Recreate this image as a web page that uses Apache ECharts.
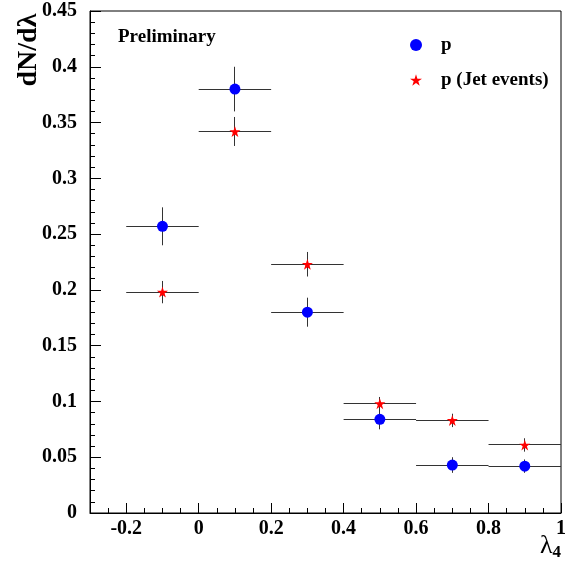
<!DOCTYPE html>
<html><head><meta charset="utf-8">
<script src="https://cdn.jsdelivr.net/npm/echarts@6/dist/echarts.min.js"></script>
<style>html,body{margin:0;padding:0;background:#fff}#c{width:570px;height:569px}</style>
</head><body><div id="c"></div>
<script>
// ---- data ----
const binCenters = [-0.1, 0.1, 0.3, 0.5, 0.7, 0.9];
const binHalfWidth = 0.1;
const pValues = [0.257, 0.380, 0.180, 0.084, 0.043, 0.042];
const pErrors = [0.017, 0.020, 0.013, 0.009, 0.007, 0.006];
const jetValues = [0.198, 0.342, 0.223, 0.098, 0.083, 0.061];
const jetErrors = [0.010, 0.013, 0.011, 0.006, 0.006, 0.006];
const xMajorTicks = [-0.2, 0, 0.2, 0.4, 0.6, 0.8, 1];
const seriesNames = ['p', 'p (Jet events)'];

const FONT = '"Liberation Serif", "Times New Roman", serif';
const starPath = 'path://M50,0 L61.8,36.2 L100,36.2 L69.1,58.8 L80.9,95.1 L50,72.6 L19.1,95.1 L30.9,58.8 L0,36.2 L38.2,36.2 Z';

const chart = echarts.init(document.getElementById('c'), null, {renderer: 'canvas'});

function crisp(v) { return Math.round(v - 0.5) + 0.5; }

function errorBars(vals, errs, name) {
  return {
    type: 'custom', name: name + ' err', silent: true, z: 2,
    xAxisIndex: 0, yAxisIndex: 0,
    data: binCenters.map((x, i) => [x, vals[i], errs[i]]),
    encode: {x: 0, y: 1},
    renderItem: function (params, api) {
      const x = api.value(0), y = api.value(1), e = api.value(2);
      const l = api.coord([x - binHalfWidth, y]);
      const r = api.coord([x + binHalfWidth, y]);
      const t = api.coord([x, y + e]);
      const b = api.coord([x, y - e]);
      const st = {stroke: '#333', lineWidth: 1};
      return {type: 'group', children: [
        {type: 'line', shape: {x1: l[0], y1: crisp(l[1]), x2: r[0], y2: crisp(r[1])}, style: st},
        {type: 'line', shape: {x1: crisp(t[0]), y1: t[1], x2: crisp(b[0]), y2: b[1]}, style: st}
      ]};
    }
  };
}

const labelStyle = {fontFamily: FONT, fontWeight: 'bold', fontSize: 20, color: '#000'};

const option = {
  animation: false,
  backgroundColor: '#fff',
  grid: {left: 90, right: 9, top: 11, bottom: 56, show: true, borderColor: '#000', borderWidth: 1, backgroundColor: 'transparent'},
  title: {text: 'Preliminary', left: 113, top: 23,
    textStyle: {fontFamily: FONT, fontWeight: 'bold', fontSize: 19, color: '#000'}},
  legend: {
    orient: 'vertical', left: 405, top: 30, itemWidth: 12, itemHeight: 12, itemGap: 15,
    data: [{name: seriesNames[0], icon: 'circle'}, {name: seriesNames[1], icon: starPath}],
    textStyle: {fontFamily: FONT, fontWeight: 'bold', fontSize: 19, color: '#000', lineHeight: 20, padding: [0, 0, 0, 14]}
  },
  xAxis: [
    {type: 'value', min: -0.3, max: 1, position: 'bottom',
      axisLine: {show: true, onZero: false, lineStyle: {color: '#000', width: 1}},
      axisTick: {show: true, inside: true, length: 10, lineStyle: {color: '#000'}, customValues: xMajorTicks},
      axisLabel: {show: true, margin: 6, customValues: xMajorTicks, ...labelStyle,
        formatter: v => String(Math.round(v * 10) / 10)},
      splitLine: {show: false}},
    {type: 'value', min: -0.3, max: 1, interval: 0.05, position: 'bottom', offset: 0,
      axisLine: {show: false, onZero: false},
      axisTick: {show: true, inside: true, length: 5, lineStyle: {color: '#000'}},
      axisLabel: {show: false}, splitLine: {show: false}}
  ],
  yAxis: {type: 'value', min: 0, max: 0.45, interval: 0.05, position: 'left',
    axisLine: {show: true, onZero: false, lineStyle: {color: '#000', width: 1}},
    axisTick: {show: true, inside: true, length: 11, lineStyle: {color: '#000'}},
    minorTick: {show: true, splitNumber: 5, length: 5, lineStyle: {color: '#000'}},
    axisLabel: {margin: 13, ...labelStyle, formatter: v => String(Math.round(v * 100) / 100)},
    splitLine: {show: false}},
  graphic: [
    {type: 'text', x: 29, y: 50, rotation: Math.PI / 2,
      style: {text: 'dN/dλ', fontFamily: FONT, fontWeight: 'bold', fontSize: 28, fill: '#000', align: 'center', verticalAlign: 'middle'}},
    {type: 'text', x: 561, y: 546,
      style: {text: '{a|λ}{b|4}', align: 'right', verticalAlign: 'middle',
        rich: {a: {fontFamily: FONT, fontSize: 26, fill: '#000', color: '#000'},
               b: {fontFamily: FONT, fontWeight: 'bold', fontSize: 17, fill: '#000', color: '#000', padding: [14, 0, 0, 0]}}}}
  ],
  series: [
    errorBars(pValues, pErrors, seriesNames[0]),
    errorBars(jetValues, jetErrors, seriesNames[1]),
    {type: 'scatter', name: seriesNames[0], z: 5, symbol: 'circle', symbolSize: 11,
      itemStyle: {color: '#0000ff', opacity: 1},
      data: binCenters.map((x, i) => [x, pValues[i]])},
    {type: 'scatter', name: seriesNames[1], z: 6, symbol: starPath, symbolSize: 11,
      itemStyle: {color: '#ff0000', opacity: 1},
      data: binCenters.map((x, i) => [x, jetValues[i]])}
  ]
};
chart.setOption(option);
</script></body></html>
